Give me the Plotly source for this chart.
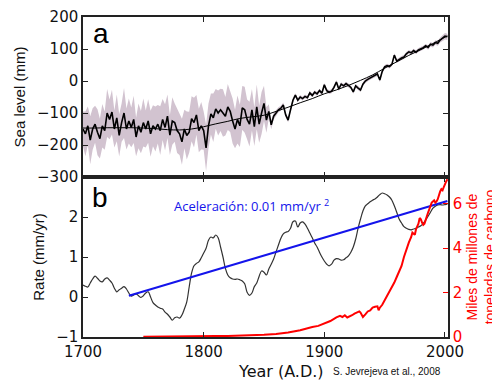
import plotly.graph_objects as go

# ---------------- data ----------------
years = list(range(1700, 2003, 2))

sea_level = [
    -150, -165, -140, -185, -150, -135, -160, -180, -140, -155,
    -100, -120, -97, -150, -115, -170, -130, -100, -150, -125,
    -145, -120, -175, -140, -160, -130, -150, -125, -165, -140,
    -150, -135, -155, -120, -145, -110, -169, -125, -130, -155,
    -165, -190, -150, -170, -160, -118, -130, -106, -155, -140,
    -155, -209, -140, -103, -115, -87, -100, -90, -100, -110,
    -81, -95, -125, -150, -120, -140, -84, -90, -120, -135,
    -90, -143, -81, -135, -100, -70, -122, -95, -137, -110,
    -100, -90, -85, -75, -106, -122, -90, -60, -44, -60,
    -50, -55, -48, -52, -37, -45, -35, -40, -30, -38,
    -12, -30, -35, -32, -20, -3, -25, -10, -15, -8,
    -14, -20, -34, -15, -22, -28, -10, 0, 5, 10,
    15, 18, 22, 3, 30, 44, 48, 45, 52, 81,
    62, 68, 72, 75, 85, 91, 88, 95, 90, 97,
    100, 104, 110, 105, 115, 112, 120, 118, 128, 135,
    140, 138,
]

sea_err = [
    55, 70, 60, 75, 65, 58, 72, 62, 68, 60,
    75, 62, 70, 58, 73, 66, 60, 78, 64, 70,
    62, 74, 60, 70, 66, 75, 58, 68, 72, 64,
    70, 60, 76, 64, 72, 68, 62, 74, 60, 70,
    66, 72, 60, 75, 64, 70, 78, 62, 68, 74,
    60, 72, 70, 64, 76, 62, 70, 66, 74, 60,
    72, 64, 70, 60, 75, 66, 68, 72, 62, 70,
    65, 60, 70, 58, 66, 55, 40, 22, 14, 10,
    9, 8, 8, 8, 7, 7, 7, 7, 6, 6,
    6, 6, 6, 6, 6, 6, 6, 6, 6, 6,
    6, 6, 6, 6, 6, 6, 6, 6, 6, 6,
    6, 6, 6, 6, 6, 6, 6, 6, 6, 6,
    6, 6, 6, 6, 6, 6, 6, 6, 6, 6,
    6, 6, 6, 6, 6, 6, 6, 6, 6, 6,
    6, 6, 6, 7, 7, 7, 7, 8, 8, 9,
    10, 10,
]

smooth_years = [1700, 1710, 1720, 1730, 1740, 1750, 1760, 1770, 1780, 1790,
                1800, 1810, 1820, 1830, 1840, 1850, 1860, 1870, 1880, 1890,
                1900, 1910, 1920, 1930, 1940, 1950, 1960, 1970, 1980, 1990,
                2000, 2002]
smooth_level = [-147, -147, -146, -146, -146, -147, -149, -152, -153, -150,
                -143, -134, -126, -117, -112, -107, -95, -82, -68, -55,
                -40, -28, -14, 2, 19, 40, 60, 80, 98, 117,
                137, 141]

rate = [
    0.30, 0.27, 0.25, 0.35, 0.45, 0.52, 0.47, 0.40, 0.38, 0.45,
    0.48, 0.42, 0.35, 0.22, 0.13, 0.18, 0.22, 0.26, 0.20, 0.10,
    0.02, 0.05, 0.08, 0.03, -0.01, 0.03, 0.10, 0.13, 0.00, -0.14,
    -0.20, -0.25, -0.28, -0.30, -0.38, -0.43, -0.50, -0.58, -0.52, -0.50,
    -0.53, -0.45, -0.30, -0.12, 0.25, 0.60, 0.78, 0.84, 0.88, 0.98,
    1.10, 1.22, 1.42, 1.50, 1.48, 1.55, 1.48, 1.25, 1.00, 0.72,
    0.55, 0.48, 0.45, 0.44, 0.45, 0.43, 0.40, 0.33, 0.12, 0.04,
    0.10, 0.26, 0.35, 0.52, 0.65, 0.62, 0.55, 0.70, 0.82, 0.95,
    1.13, 1.30, 1.47, 1.58, 1.62, 1.64, 1.72, 1.88, 1.90, 1.75,
    1.85, 1.88, 1.82, 1.72, 1.60, 1.48, 1.35, 1.25, 1.12, 1.00,
    0.90, 0.82, 0.78, 0.82, 0.92, 0.96, 0.95, 0.92, 0.93, 0.98,
    1.03, 1.12, 1.25, 1.45, 1.72, 1.95, 2.15, 2.28, 2.33, 2.38,
    2.42, 2.45, 2.50, 2.56, 2.60, 2.58, 2.55, 2.50, 2.42, 2.28,
    2.12, 1.95, 1.85, 1.76, 1.72, 1.69, 1.68, 1.70, 1.72, 1.75,
    1.78, 1.84, 1.92, 2.02, 2.12, 2.22, 2.27, 2.30, 2.31, 2.30,
    2.31, 2.32,
]

trend_years = [1738, 2002]
trend_rate = [0.03, 2.40]

carbon_years = [1750, 1760, 1770, 1780, 1790, 1800, 1810, 1820, 1830, 1840,
                1850, 1860, 1870, 1880, 1885, 1890, 1895, 1900, 1905, 1910,
                1913, 1915, 1917, 1919, 1921, 1923, 1925, 1927, 1929, 1930,
                1932, 1934, 1936, 1938, 1940, 1942, 1944, 1945, 1946, 1948,
                1950, 1952, 1954, 1956, 1958, 1960, 1962, 1964, 1966, 1968,
                1970, 1972, 1973, 1974, 1975, 1976, 1977, 1978, 1979, 1980,
                1981, 1982, 1983, 1984, 1985, 1986, 1987, 1988, 1989, 1990,
                1991, 1992, 1993, 1994, 1995, 1996, 1997, 1998, 1999, 2000,
                2001, 2002]
carbon = [0.01, 0.01, 0.02, 0.02, 0.03, 0.03, 0.04, 0.05, 0.06, 0.08,
          0.10, 0.14, 0.20, 0.30, 0.38, 0.45, 0.50, 0.60, 0.72, 0.88,
          0.95, 0.90, 0.98, 0.88, 0.92, 0.98, 1.05, 1.10, 1.15, 1.10,
          0.90, 1.02, 1.15, 1.20, 1.32, 1.36, 1.38, 1.20, 1.32, 1.45,
          1.65, 1.85, 2.00, 2.20, 2.45, 2.70, 2.95, 3.20, 3.60, 3.95,
          4.25, 4.50, 4.70, 4.65, 4.60, 4.85, 5.00, 5.10, 5.35, 5.30,
          5.15, 5.05, 5.10, 5.30, 5.45, 5.60, 5.75, 5.95, 6.05, 6.10,
          6.15, 6.05, 6.10, 6.20, 6.40, 6.55, 6.65, 6.60, 6.75, 6.90,
          7.00, 7.10]

top_ticks = [-300, -200, -100, 0, 100, 200]
rate_ticks = [-1, 0, 1, 2]
carbon_ticks = [0, 2, 4, 6]
year_ticks = [1700, 1800, 1900, 2000]

# ---------------- figure ----------------
fig = go.Figure()

band_upper = [v + e for v, e in zip(sea_level, sea_err)]
band_lower = [v - e for v, e in zip(sea_level, sea_err)]
fig.add_trace(go.Scatter(
    x=years + years[::-1], y=band_upper + band_lower[::-1],
    fill="toself", fillcolor="rgb(210,195,208)", line=dict(width=0),
    mode="lines", xaxis="x2", yaxis="y2", hoverinfo="skip", showlegend=False))
fig.add_trace(go.Scatter(
    x=years, y=sea_level, mode="lines", line=dict(color="black", width=1.6),
    xaxis="x2", yaxis="y2", showlegend=False))
fig.add_trace(go.Scatter(
    x=smooth_years, y=smooth_level, mode="lines", line=dict(color="black", width=1, shape="spline"),
    xaxis="x2", yaxis="y2", showlegend=False))

fig.add_trace(go.Scatter(
    x=years, y=rate, mode="lines", line=dict(color="#333333", width=1.2, shape="spline"),
    xaxis="x", yaxis="y", showlegend=False))
fig.add_trace(go.Scatter(
    x=trend_years, y=trend_rate, mode="lines", line=dict(color="rgb(20,20,235)", width=2),
    xaxis="x", yaxis="y", showlegend=False))
fig.add_trace(go.Scatter(
    x=carbon_years, y=carbon, mode="lines", line=dict(color="rgb(255,0,0)", width=2),
    xaxis="x", yaxis="y3", showlegend=False))

axis_common = dict(showline=True, linecolor="#222222", linewidth=1.5,
                   ticks="inside", ticklen=5, tickcolor="#222222", tickwidth=1.2,
                   showgrid=False, zeroline=False, automargin=False,
                   tickfont=dict(family="DejaVu Sans", size=15, color="#111111"))

# the page body adds an 8 px offset, so the figure is 8 px smaller and margins compensate
fig.update_layout(
    width=492, height=377,
    margin=dict(l=75, r=52, t=9, b=48, autoexpand=False),
    paper_bgcolor="white", plot_bgcolor="white",
    showlegend=False,
    xaxis=dict(domain=[0, 1], anchor="y", range=[1700, 2002.5],
               tickvals=year_ticks, mirror="ticks", **axis_common),
    xaxis2=dict(domain=[0, 1], anchor="y2", range=[1700, 2002.5], matches="x",
                tickvals=year_ticks, showticklabels=False, mirror="ticks", **axis_common),
    yaxis=dict(domain=[0, 0.5], anchor="x", range=[-1, 3], tickvals=rate_ticks,
               mirror=True,
               title=dict(text="Rate (mm/yr)", standoff=8,
                          font=dict(family="Liberation Sans", size=15, color="#111111")),
               **axis_common),
    yaxis2=dict(domain=[0.5, 1], anchor="x2", range=[-300, 200], tickvals=top_ticks,
                mirror="ticks",
                title=dict(text="Sea level (mm)", standoff=8,
                           font=dict(family="Liberation Sans", size=15, color="#111111")),
                **axis_common),
    yaxis3=dict(overlaying="y", side="right", anchor="x", range=[0, 7.2],
                tickvals=carbon_ticks, showline=True, linecolor="#222222", linewidth=1.5,
                ticks="inside", ticklen=5, tickcolor="red", tickwidth=1.2,
                showgrid=False, zeroline=False, automargin=False,
                tickfont=dict(family="DejaVu Sans", size=15, color="red"),
                title=dict(text="Miles de millones de<br>toneladas de carbono", standoff=6,
                           font=dict(family="Liberation Sans", size=14, color="red"))),
)

fig.add_annotation(text="a", xref="x2", yref="y2", x=1715, y=150, showarrow=False,
                   font=dict(family="Liberation Sans", size=28, color="black"))
fig.add_annotation(text="b", xref="x", yref="y", x=1714, y=2.5, showarrow=False,
                   font=dict(family="Liberation Sans", size=28, color="black"))
fig.add_annotation(text="Aceleración: 0.01 mm/yr <sup>2</sup>", xref="x", yref="y",
                   x=1840, y=2.3, showarrow=False,
                   font=dict(family="Open Sans", size=13, color="rgb(20,20,235)"))
fig.add_annotation(text="Year (A.D.)", xref="paper", yref="paper", x=0.542, y=-0.109,
                   showarrow=False, xanchor="center", yanchor="middle",
                   font=dict(family="DejaVu Sans", size=16, color="#111111"))
fig.add_annotation(text="S. Jevrejeva et al., 2008", xref="paper", yref="paper",
                   x=0.834, y=-0.109, showarrow=False, xanchor="center", yanchor="middle",
                   font=dict(family="Liberation Sans", size=10, color="#111111"))

fig.write_html("out.html")
